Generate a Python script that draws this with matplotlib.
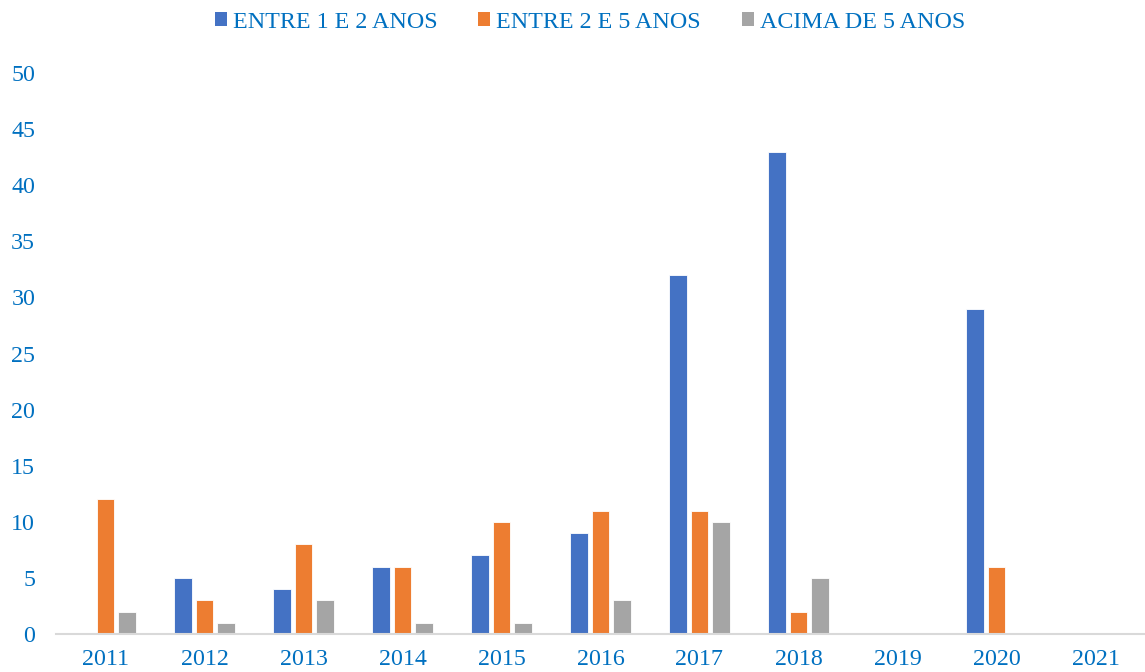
import matplotlib
matplotlib.use("Agg")
import matplotlib.pyplot as plt
from matplotlib.patches import Patch
import numpy as np

years = ["2011", "2012", "2013", "2014", "2015", "2016", "2017", "2018", "2019", "2020", "2021"]
entre_1_2 = [0, 5, 4, 6, 7, 9, 32, 43, 0, 29, 0]
entre_2_5 = [12, 3, 8, 6, 10, 11, 11, 2, 0, 6, 0]
acima_5 = [2, 1, 3, 1, 1, 3, 10, 5, 0, 0, 0]
series_names = ["ENTRE 1 E 2 ANOS", "ENTRE 2 E 5 ANOS", "ACIMA DE 5 ANOS"]
colors = ["#4472C4", "#ED7D31", "#A5A5A5"]
text_color = "#0070C0"

plt.rcParams['font.family'] = ['Liberation Serif', 'DejaVu Serif']

fig = plt.figure(figsize=(11.45, 6.72), dpi=100)
ax = fig.add_axes([56/1145, 38/672, 1 - 56/1145, 561/672])

x = np.arange(len(years))
w = 0.18
step = 0.22
for i, (vals, name, c) in enumerate(zip([entre_1_2, entre_2_5, acima_5], series_names, colors)):
    ax.bar(x + (i - 1) * step, vals, width=w, color=c, label=name,
           edgecolor="white", linewidth=0.6)

ax.set_xlim(-0.5, len(years) - 0.5)
ax.set_ylim(0, 50)
ax.set_yticks(range(0, 51, 5))
ax.set_xticks(x)
ax.set_xticklabels(years)
for s in ["top", "right", "left"]:
    ax.spines[s].set_visible(False)
ax.spines["bottom"].set_color("#D9D9D9")
ax.spines["bottom"].set_linewidth(1.5)
ax.tick_params(axis="both", length=0, labelsize=17.3, labelcolor=text_color)
ax.tick_params(axis="y", pad=15)
ax.tick_params(axis="x", pad=11)

handles = [Patch(facecolor=c, edgecolor="none", label=n) for c, n in zip(colors, series_names)]
leg = fig.legend(handles=handles, loc="center", bbox_to_anchor=(590/1145, 1 - 22/672), ncol=3,
                 frameon=False, fontsize=17.3, handlelength=0.5, handleheight=0.5,
                 handletextpad=0.25, columnspacing=1.7, labelcolor=text_color)

fig.savefig("out.png", dpi=100)
